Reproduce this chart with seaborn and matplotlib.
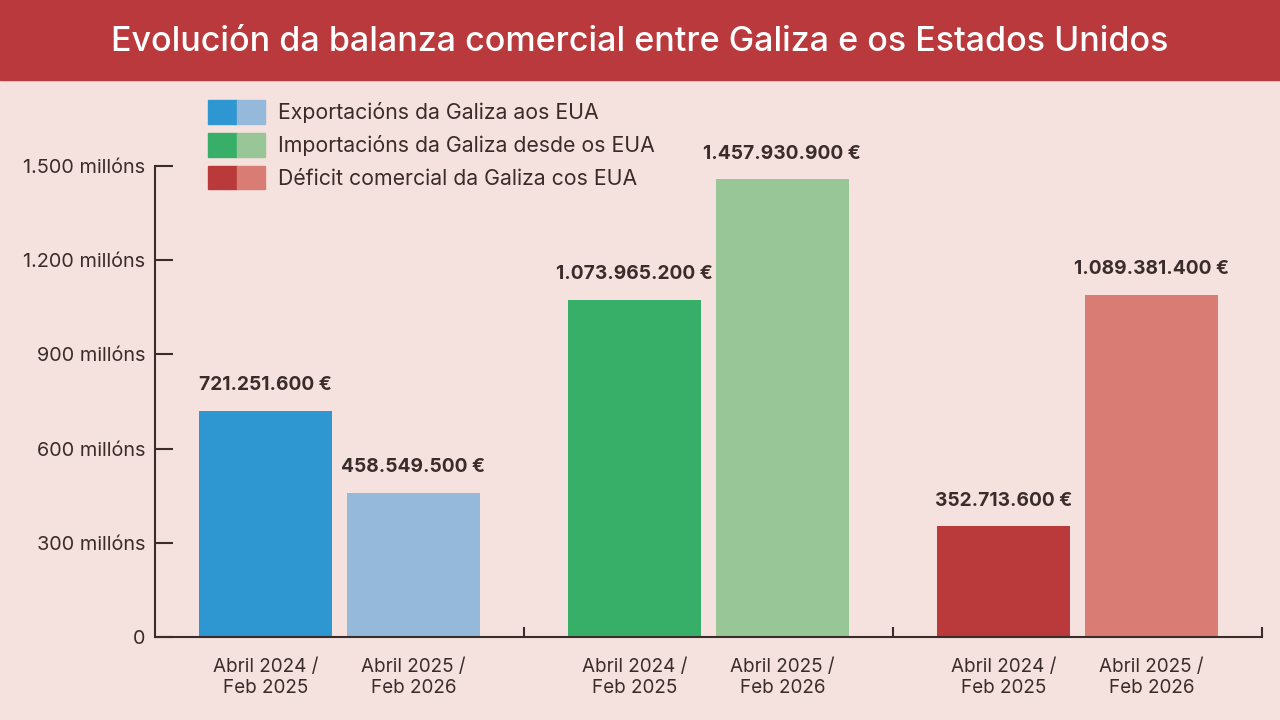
import pandas as pd
import matplotlib.pyplot as plt
import seaborn as sns
from matplotlib.patches import Patch, Rectangle
from matplotlib.legend_handler import HandlerTuple

sns.set_style("white")

BG = "#F5E2DF"
BANNER = "#B9393C"
INK = "#3A2C2B"

GROUPS = ["Exportacións da Galiza aos EUA",
          "Importacións da Galiza desde os EUA",
          "Déficit comercial da Galiza cos EUA"]
PERIODS = ["Abril 2024 /\nFeb 2025", "Abril 2025 /\nFeb 2026"]
VALUES_2024 = [721.2516, 1073.9652, 352.7136]   # millóns de euros
VALUES_2025 = [458.5495, 1457.9309, 1089.3814]
LABELS_2024 = ["721.251.600 €", "1.073.965.200 €", "352.713.600 €"]
LABELS_2025 = ["458.549.500 €", "1.457.930.900 €", "1.089.381.400 €"]
DARK = ["#2E96D1", "#38AF68", "#BA393B"]
LIGHT = ["#95B9DA", "#98C697", "#D87C74"]
YTICKS = [0, 300, 600, 900, 1200, 1500]
YTICKLABELS = ["0", "300 millóns", "600 millóns", "900 millóns",
               "1.200 millóns", "1.500 millóns"]

df = pd.DataFrame({
    "grupo": GROUPS * 2,
    "periodo": [PERIODS[0]] * 3 + [PERIODS[1]] * 3,
    "valor": VALUES_2024 + VALUES_2025,
    "etiqueta": LABELS_2024 + LABELS_2025,
})

plt.rcParams["font.family"] = ["Inter", "DejaVu Sans"]

fig = plt.figure(figsize=(12.8, 7.2), dpi=100, facecolor=BG)
fig.patches.append(Rectangle((0, 1 - 80 / 720), 1, 80 / 720, transform=fig.transFigure,
                             color=BANNER, zorder=0))
fig.text(0.5, 1 - 42 / 720, "Evolución da balanza comercial entre Galiza e os Estados Unidos",
         ha="center", va="center", color="white", fontsize=24.5, fontweight="medium")

ax = fig.add_axes([155 / 1280, 83 / 720, (1262 - 155) / 1280, (637 - 166) / 720])
ax.set_facecolor(BG)
sns.barplot(data=df, x="grupo", y="valor", hue="periodo", order=GROUPS,
            hue_order=PERIODS, width=0.8, gap=0.1, ax=ax, legend=False,
            palette=["#888888", "#bbbbbb"], saturation=1)

# recolour each bar: patches come per hue level, in group order
colors = DARK + LIGHT
for patch, c in zip(ax.patches, colors):
    patch.set_facecolor(c)
    patch.set_edgecolor("none")

for patch, txt in zip(ax.patches, df["etiqueta"]):
    ax.annotate(txt, (patch.get_x() + patch.get_width() / 2, patch.get_height()),
                xytext=(0, 12), textcoords="offset points", ha="center", va="bottom",
                fontsize=13.8, fontweight="bold", color=INK, annotation_clip=False)

ax.set_xlim(-0.5, 2.5)
ax.set_ylim(0, 1500)
ax.set_yticks(YTICKS)
ax.set_yticklabels(YTICKLABELS, fontsize=14.3, color=INK)
ax.tick_params(axis="y", direction="in", length=13, width=1.5, color=INK, pad=7, left=True)

centers = [p.get_x() + p.get_width() / 2 for p in ax.patches]
order = sorted(range(len(centers)), key=lambda i: centers[i])
ax.set_xticks([centers[i] for i in order])
ax.set_xticklabels([df["periodo"][i] for i in order], fontsize=13.6, color=INK,
                   linespacing=1.25)
ax.tick_params(axis="x", which="major", length=0, pad=15)
ax.set_xticks([0.5, 1.5, 2.5], minor=True)
ax.tick_params(axis="x", which="minor", direction="in", length=7, width=1.5,
               color=INK, bottom=True)
ax.set_xlabel("")
ax.set_ylabel("")

for s in ["top", "right"]:
    ax.spines[s].set_visible(False)
for s in ["left", "bottom"]:
    ax.spines[s].set_color(INK)
    ax.spines[s].set_linewidth(1.5)

handles = [(Patch(color=DARK[i]), Patch(color=LIGHT[i])) for i in range(3)]
ax.legend(handles, GROUPS, handler_map={tuple: HandlerTuple(ndivide=None, pad=0)},
          loc="upper left", bbox_to_anchor=(208 / 1280, 1 - 100 / 720),
          bbox_transform=fig.transFigure, frameon=False, fontsize=15.3,
          handlelength=2.7, handleheight=1.35, handletextpad=0.6, labelspacing=0.42,
          borderaxespad=0, borderpad=0, labelcolor=INK)

fig.savefig("out.png", dpi=100, facecolor=BG)
plt.close()
